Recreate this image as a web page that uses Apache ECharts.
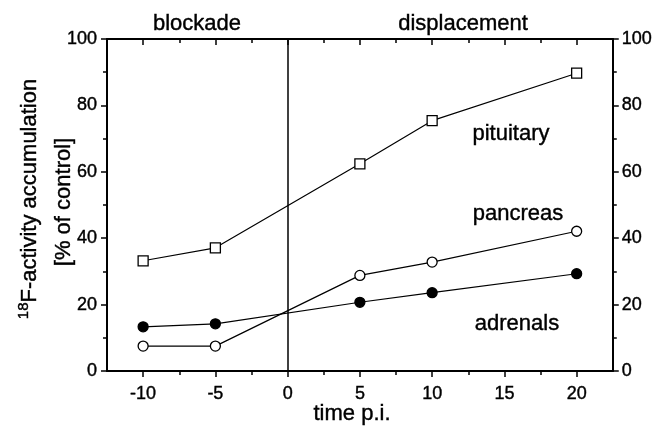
<!DOCTYPE html>
<html>
<head>
<meta charset="utf-8">
<script src="https://cdn.jsdelivr.net/npm/echarts@6/dist/echarts.min.js"></script>
<style>
  html, body { margin: 0; padding: 0; background: #fff; }
  #main { width: 655px; height: 432px; }
</style>
</head>
<body>
<div id="main"></div>
<script>
// time p.i. (min), negative = blockade, positive = displacement
var times = [-10, -5, 5, 10, 20]
var pituitary = [33.2, 37.1, 62.4, 75.4, 89.7]
var pancreas = [7.5, 7.5, 28.8, 32.8, 42.1]
var adrenals = [13.3, 14.2, 20.7, 23.6, 29.3]

var xMajorTicks = [-10, -5, 0, 5, 10, 15, 20]
var xMinorTicks = [-7.5, -2.5, 2.5, 7.5, 12.5, 17.5]

var FONT = 'Liberation Sans, Arial, sans-serif'

function pairs(ys) {
  return times.map(function (t, i) { return [t, ys[i]] })
}

// 4 x axes: bottom major/minor, top major/minor (top ticks point inward)
function xAx(pos, ticks, len, inside, withLine, withLabel) {
  return {
    type: 'value',
    position: pos,
    min: -12.5,
    max: 22.5,
    splitLine: { show: false },
    axisLine: { show: withLine, onZero: false, lineStyle: { color: '#000', width: 2 } },
    axisTick: { show: true, inside: inside, length: len, customValues: ticks, lineStyle: { color: '#000', width: 1.5 } },
    axisLabel: withLabel
      ? { show: true, customValues: xMajorTicks, margin: 14, color: '#000', fontSize: 18, fontFamily: FONT,
          textBorderColor: '#000', textBorderWidth: 0.4 }
      : { show: false }
  }
}

function yAx(pos, labelMargin) {
  return {
    type: 'value',
    position: pos,
    min: 0,
    max: 100,
    interval: 20,
    splitLine: { show: false },
    axisLine: { show: true, onZero: false, lineStyle: { color: '#000', width: 2 } },
    axisTick: { show: true, length: 6, lineStyle: { color: '#000', width: 1.5 } },
    minorTick: { show: true, splitNumber: 2, length: 4, lineStyle: { color: '#000', width: 1.5 } },
    axisLabel: { margin: labelMargin, color: '#000', fontSize: 18, fontFamily: FONT,
      textBorderColor: '#000', textBorderWidth: 0.4 }
  }
}

function lineSeries(name, ys, symbol, fill) {
  return {
    name: name,
    type: 'line',
    data: pairs(ys),
    symbol: symbol,
    symbolSize: 10,
    showSymbol: true,
    lineStyle: { color: '#000', width: 1.2 },
    itemStyle: { color: fill, borderColor: '#000', borderWidth: 1.3 },
    z: 5
  }
}

var chart = echarts.init(document.getElementById('main'))

var series = [
  lineSeries('pituitary', pituitary, 'rect', '#fff'),
  lineSeries('pancreas', pancreas, 'circle', '#fff'),
  lineSeries('adrenals', adrenals, 'circle', '#000')
]
// vertical line separating blockade / displacement
series[0].markLine = {
  silent: true,
  symbol: ['none', 'none'],
  label: { show: false },
  lineStyle: { color: '#000', width: 1.5, type: 'solid' },
  data: [{ xAxis: 0 }]
}

function txt(x, y, s) {
  return {
    type: 'text', x: x, y: y,
    style: { text: s, fill: '#000', font: '22px ' + FONT, textAlign: 'center', textVerticalAlign: 'middle',
      stroke: '#000', lineWidth: 0.4 }
  }
}

chart.setOption({
  animation: false,
  backgroundColor: '#fff',
  grid: { left: 107, right: 42, top: 39, bottom: 61 },
  xAxis: [
    xAx('bottom', xMajorTicks, 6, false, true, true),
    xAx('bottom', xMinorTicks, 4, false, false, false),
    xAx('top', xMajorTicks, 6, true, true, false),
    xAx('top', xMinorTicks, 4, true, false, false)
  ],
  yAxis: [yAx('left', 10), yAx('right', 9)],
  series: series,
  graphic: [
    txt(197, 24, 'blockade'),
    txt(463, 24, 'displacement'),
    txt(511, 134, 'pituitary'),
    txt(518, 214, 'pancreas'),
    txt(517, 324, 'adrenals'),
    txt(352, 414, 'time p.i.'),
    {
      type: 'text', x: 30, y: 199, rotation: Math.PI / 2,
      style: {
        text: '{s|18}F-activity accumulation',
        fill: '#000', font: '22px ' + FONT, textAlign: 'center', textVerticalAlign: 'middle',
        stroke: '#000', lineWidth: 0.4,
        rich: { s: { fontSize: 15, fontFamily: FONT, padding: [0, 0, 12, 0] } }
      }
    },
    {
      type: 'text', x: 64, y: 202, rotation: Math.PI / 2,
      style: { text: '[% of control]', fill: '#000', font: '22px ' + FONT, textAlign: 'center', textVerticalAlign: 'middle',
        stroke: '#000', lineWidth: 0.4 }
    }
  ]
})
</script>
</body>
</html>
